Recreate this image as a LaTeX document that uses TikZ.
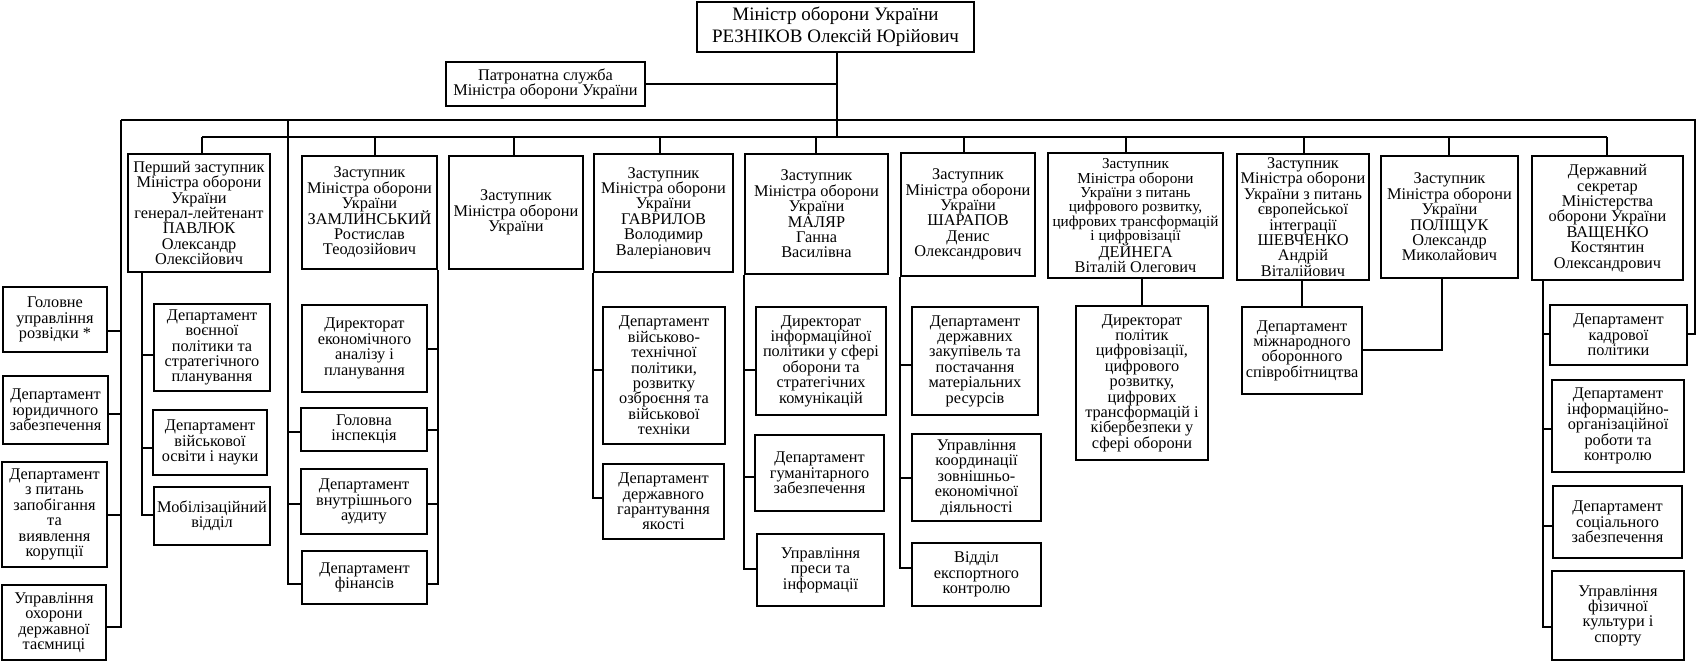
\documentclass[tikz,border=0pt]{standalone}
\usepackage{fontspec}
\setmainfont{Liberation Serif}
\newcommand\orgfont{\fontsize{16.3}{15.4}\selectfont\lineskiplimit=-50pt\lineskip=0pt\relax}
\newcommand\bigorgfont{\fontsize{19}{21.7}\selectfont\lineskiplimit=-50pt\lineskip=0pt\relax}
\newcommand\smallorgfont{\fontsize{15.2}{14.3}\selectfont\lineskiplimit=-50pt\lineskip=0pt\relax}
\tikzset{
  orgbox/.style={draw, line width=2pt, inner sep=0pt, align=center, font=\orgfont},
  ln/.style={line width=2pt},
}
\newcommand\obox[7][]{\node[orgbox,#1, minimum width={(#5-#3)*1pt}, minimum height={(#6-#4)*1pt}] (#2) at ({(#3+#5)/2},{(#4+#6)/2}) {#7};}
\newcommand\tck[3]{\draw[ln] (#1 |- 0,#3) -- (#2 |- 0,#3);}
\begin{document}
\begin{tikzpicture}[x=1pt,y=-1pt]
\useasboundingbox (0,0) rectangle (1696,662);
% top
\obox[font=\bigorgfont]{min}{697}{2}{974}{52}{Міністр оборони України\\РЕЗНІКОВ Олексій Юрійович}
\obox{pat}{446}{62}{645}{106}{Патронатна служба\\Міністра оборони України}
% deputies
\obox{pav}{128}{154}{270}{272}{Перший заступник\\Міністра оборони\\України\\генерал-лейтенант\\ПАВЛЮК\\Олександр\\Олексійович}
\obox{zam}{302}{156}{437}{269}{Заступник\\Міністра оборони\\України\\ЗАМЛИНСЬКИЙ\\Ростислав\\Теодозійович}
\obox{zd}{449}{156}{583}{269}{Заступник\\Міністра оборони\\України}
\obox{gav}{594}{154}{733}{272}{Заступник\\Міністра оборони\\України\\ГАВРИЛОВ\\Володимир\\Валеріанович}
\obox{mal}{745}{154}{888}{274}{Заступник\\Міністра оборони\\України\\МАЛЯР\\Ганна\\Василівна}
\obox{sha}{901}{153}{1035}{276}{Заступник\\Міністра оборони\\України\\ШАРАПОВ\\Денис\\Олександрович}
\obox[font=\smallorgfont]{dey}{1048}{153}{1223}{278}{Заступник\\Міністра оборони\\України з питань\\цифрового розвитку,\\цифрових трансформацій\\і цифровізації\\[3pt]{\orgfont ДЕЙНЕГА}\\{\orgfont Віталій Олегович}}
\obox{she}{1237}{154}{1369}{280}{Заступник\\Міністра оборони\\України з питань\\європейської\\інтеграції\\ШЕВЧЕНКО\\Андрій\\Віталійович}
\obox{pol}{1381}{156}{1518}{278}{Заступник\\Міністра оборони\\України\\ПОЛІЩУК\\Олександр\\Миколайович}
\obox{vas}{1532}{156}{1683}{280}{Державний\\секретар\\Міністерства\\оборони України\\ВАЩЕНКО\\Костянтин\\Олександрович}
% left column
\obox{l1}{3}{287}{107}{352}{Головне\\управління\\розвідки *}
\obox{l2}{3}{376}{108}{444}{Департамент\\юридичного\\забезпечення}
\obox{l3}{2}{462}{107}{567}{Департамент\\з питань\\запобігання\\та\\виявлення\\корупції}
\obox{l4}{2}{585}{106}{660}{Управління\\охорони\\державної\\таємниці}
% Pavlyuk subs
\obox{p1}{154}{304}{270}{391}{Департамент\\воєнної\\політики та\\стратегічного\\планування}
\obox{p2}{153}{410}{267}{475}{Департамент\\військової\\освіти і науки}
\obox{p3}{154}{487}{270}{545}{Мобілізаційний\\відділ}
% Zamlynsky subs
\obox{z1}{302}{305}{427}{392}{Директорат\\економічного\\аналізу і\\планування}
\obox{z2}{301}{408}{427}{451}{Головна\\інспекція}
\obox{z3}{301}{469}{427}{534}{Департамент\\внутрішнього\\аудиту}
\obox{z4}{302}{551}{427}{604}{Департамент\\фінансів}
% Gavrylov subs
\obox{g1}{603}{307}{725}{444}{Департамент\\військово-\\технічної\\політики,\\розвитку\\озброєння та\\військової\\техніки}
\obox{g2}{603}{464}{724}{539}{Департамент\\державного\\гарантування\\якості}
% Maliar subs
\obox{m1}{756}{307}{886}{415}{Директорат\\інформаційної\\політики у сфері\\оборони та\\стратегічних\\комунікацій}
\obox{m2}{755}{435}{884}{511}{Департамент\\гуманітарного\\забезпечення}
\obox{m3}{757}{534}{884}{606}{Управління\\преси та\\інформації}
% Sharapov subs
\obox{s1}{912}{307}{1038}{415}{Департамент\\державних\\закупівель та\\постачання\\матеріальних\\ресурсів}
\obox{s2}{912}{434}{1041}{521}{Управління\\координації\\зовнішньо-\\економічної\\діяльності}
\obox{s3}{912}{543}{1041}{606}{Відділ\\експортного\\контролю}
% Deynega sub
\obox{d1}{1076}{306}{1208}{460}{Директорат\\політик\\цифровізації,\\цифрового\\розвитку,\\цифрових\\трансформацій і\\кібербезпеки у\\сфері оборони}
% Shevchenko sub
\obox{e1}{1242}{307}{1362}{394}{Департамент\\міжнародного\\оборонного\\співробітництва}
% Vashchenko subs
\obox{v1}{1550}{305}{1687}{365}{Департамент\\кадрової\\політики}
\obox{v2}{1552}{380}{1684}{472}{Департамент\\інформаційно-\\організаційної\\роботи та\\контролю}
\obox{v3}{1553}{486}{1682}{558}{Департамент\\соціального\\забезпечення}
\obox{v4}{1552}{571}{1684}{660}{Управління\\фізичної\\культури і\\спорту}
% coordinates
\coordinate (lsp) at (121,120);
\coordinate (rsp) at (1695,120);
\coordinate (zsl) at (288,120);
\coordinate (b2l) at (202,137);
\coordinate (b2r) at (1607,137);
\coordinate (msp) at (min.south -| 837,0);
\coordinate (psp) at (pav.south -| 142,0);
\coordinate (vsp) at (vas.south -| 1543,0);
% connectors
\draw[ln] (msp) -- (msp |- b2l);
\draw[ln] (pat.east) -- (pat.east -| msp);
\draw[ln] (lsp) -- (rsp) |- (v1.east |- 0,334);
\draw[ln] (lsp) |- (l4.east |- 0,627);
\tck{l1.east}{lsp}{331}
\tck{l2.east}{lsp}{414}
\tck{l3.east}{lsp}{515}
\draw[ln] (b2l) -- (b2r);
\foreach \n/\x in {pav/202, zam/375, zd/514, gav/660, mal/816, sha/964, dey/1126, she/1304, pol/1449, vas/1607}
  \draw[ln] (\n.north -| \x,0) -- (\x,137);
% Zamlynsky
\draw[ln] (zsl) |- (z4.west |- 0,584);
\tck{z2.west}{zsl}{432}
\tck{z3.west}{zsl}{504}
\draw[ln] (zam.south east) |- (z4.east |- 0,584);
\tck{z1.east}{zam.south east}{349}
\tck{z2.east}{zam.south east}{430}
\tck{z3.east}{zam.south east}{504}
% Pavlyuk
\draw[ln] (psp) |- (p3.west |- 0,515);
\tck{p1.west}{psp}{355}
\tck{p2.west}{psp}{448}
% Gavrylov
\draw[ln] (gav.south west) |- (g2.west |- 0,498);
\tck{g1.west}{gav.south west}{370}
% Maliar
\draw[ln] (mal.south west) |- (m3.west |- 0,569);
\tck{m1.west}{mal.south west}{370}
\tck{m2.west}{mal.south west}{477}
% Sharapov
\draw[ln] (sha.south west) |- (s3.west |- 0,568);
\tck{s1.west}{sha.south west}{365}
\tck{s2.west}{sha.south west}{478}
% Deynega, Shevchenko, Polishchuk
\draw[ln] (d1.north) -- (d1.north |- dey.south);
\draw[ln] (e1.north) -- (e1.north |- she.south);
\draw[ln] (pol.south -| 1442,0) |- (e1.east |- 0,350);
% Vashchenko
\draw[ln] (vsp) |- (v4.west |- 0,627);
\tck{v1.west}{vsp}{334}
\tck{v2.west}{vsp}{429}
\tck{v3.west}{vsp}{526}
\end{tikzpicture}
\end{document}
